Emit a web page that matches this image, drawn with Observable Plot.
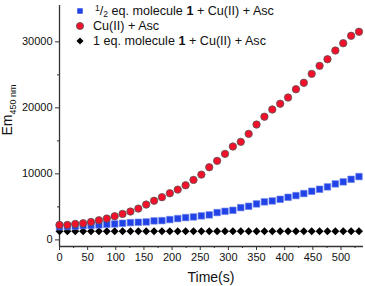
<!DOCTYPE html>
<html><head><meta charset="utf-8">
<script src="https://cdn.jsdelivr.net/npm/d3@7"></script>
<script src="https://cdn.jsdelivr.net/npm/@observablehq/plot@0.6"></script>
<style>
html,body{margin:0;padding:0;background:#fff;}
svg{font-family:"Liberation Sans",Arial,sans-serif;}
</style>
</head><body>
<div id="chart"></div>
<script>
const time = [0,14,28,42,56,70,84,98,112,126,140,154,168,182,196,210,224,238,252,266,280,294,308,322,336,350,364,378,392,406,420,434,448,462,476,490,504,518,532];
const halfEq = [2000,2030,2060,2170,2200,2270,2360,2420,2520,2620,2670,2720,2880,2920,3080,3230,3380,3480,3640,3790,4140,4330,4480,4890,5090,5450,5760,5900,6150,6450,6710,7020,7370,7670,8030,8480,8790,9180,9590];
const cuAsc = [2270,2270,2420,2520,2720,2970,3230,3580,3940,4290,4740,5350,5930,6470,7060,7620,8270,9090,9890,11000,11970,13030,14140,14850,16060,17470,18660,19750,20620,21560,22820,23790,25150,26360,27360,28680,29790,30910,31520];
const oneEq = [1300,1300,1300,1300,1300,1300,1300,1300,1300,1300,1300,1300,1300,1300,1300,1300,1300,1300,1300,1300,1300,1300,1300,1300,1300,1300,1300,1300,1300,1300,1300,1300,1300,1300,1300,1300,1300,1300,1300];
const xMajor = [0,50,100,150,200,250,300,350,400,450,500];
const xMinor = [25,75,125,175,225,275,325,375,425,475,525];
const yMajor = [0,10000,20000,30000];
const yMinor = [5000,15000,25000];
const seriesNames = ["1/2 eq. molecule 1 + Cu(II) + Asc","Cu(II) + Asc","1 eq. molecule 1 + Cu(II) + Asc"];

const rows = (vals) => time.map((t,i)=>({t, v: vals[i]}));

const plot = Plot.plot({
  width: 365, height: 286,
  marginLeft: 59, marginRight: 2, marginTop: 5, marginBottom: 40,
  style: {fontFamily: '"Liberation Sans", Arial, sans-serif', fontSize: "11px", color: "#111"},
  x: {domain: [0, 540], label: null},
  y: {domain: [-1000, 35500], label: null},
  marks: [
    Plot.axisX({ticks: xMajor, tickSize: 4, tickPadding: 3, tickFormat: d => String(d), fontSize: 11, stroke: "#333"}),
    Plot.axisX({ticks: xMinor, tickSize: 2, text: null, stroke: "#333"}),
    Plot.axisY({ticks: yMajor, tickSize: 4, tickPadding: 3, tickFormat: d => String(d), fontSize: 11, stroke: "#333"}),
    Plot.axisY({ticks: yMinor, tickSize: 2, text: null, stroke: "#333"}),
    Plot.ruleX([0], {stroke: "#333", strokeWidth: 1.3}),
    Plot.ruleY([-1000], {stroke: "#333", strokeWidth: 1.3}),
    Plot.dot(rows(oneEq), {x: "t", y: "v", symbol: "diamond2", r: 3.6, fill: "#000", stroke: "none"}),
    Plot.dot(rows(halfEq), {x: "t", y: "v", symbol: "square", r: 3.7, fill: "#2142e6", stroke: "#6c84ee", strokeWidth: 0.6}),
    Plot.dot(rows(cuAsc), {x: "t", y: "v", symbol: "circle", r: 3.7, fill: "#f2102b", stroke: "#555", strokeWidth: 0.8})
  ]
});

const svg = d3.select(plot);
// y label
const yl = svg.append("text")
  .attr("transform", "translate(12,110) rotate(-90)")
  .attr("text-anchor", "middle")
  .attr("font-size", 14).attr("fill", "#111");
yl.append("tspan").text("Em");
yl.append("tspan").attr("font-size", 9).attr("dy", 4).text("450 nm");
// x label
svg.append("text").attr("x", 211).attr("y", 282).attr("text-anchor", "middle")
  .attr("font-size", 14).attr("fill", "#111").text("Time(s)");

// legend
const lg = svg.append("g").attr("font-size", 12.6).attr("fill", "#111").attr("text-anchor", "start");
const sym = d3.symbol();
lg.append("path").attr("d", sym.type(d3.symbolSquare).size(30)()).attr("transform","translate(80,11)").attr("fill","#2142e6");
lg.append("path").attr("d", sym.type(d3.symbolCircle).size(40)()).attr("transform","translate(80,26)").attr("fill","#f2102b").attr("stroke","#555").attr("stroke-width",0.8);
lg.append("path").attr("d", sym.type(d3.symbolDiamond2).size(32)()).attr("transform","translate(80,41)").attr("fill","#000");

const t1 = lg.append("text").attr("x", 95).attr("y", 15);
t1.append("tspan").attr("font-size", 8.5).attr("dy", -4).text("1");
t1.append("tspan").attr("dy", 4).text("/");
t1.append("tspan").attr("font-size", 8.5).attr("dy", 2).text("2");
t1.append("tspan").attr("dy", -2).text(" eq. molecule ");
t1.append("tspan").attr("font-weight", "bold").text("1");
t1.append("tspan").text(" + Cu(II) + Asc");

lg.append("text").attr("x", 93).attr("y", 30).text(seriesNames[1]);

const t3 = lg.append("text").attr("x", 93).attr("y", 45);
t3.append("tspan").text("1 eq. molecule ");
t3.append("tspan").attr("font-weight", "bold").text("1");
t3.append("tspan").text(" + Cu(II) + Asc");

document.getElementById("chart").appendChild(plot);
</script>
</body></html>
